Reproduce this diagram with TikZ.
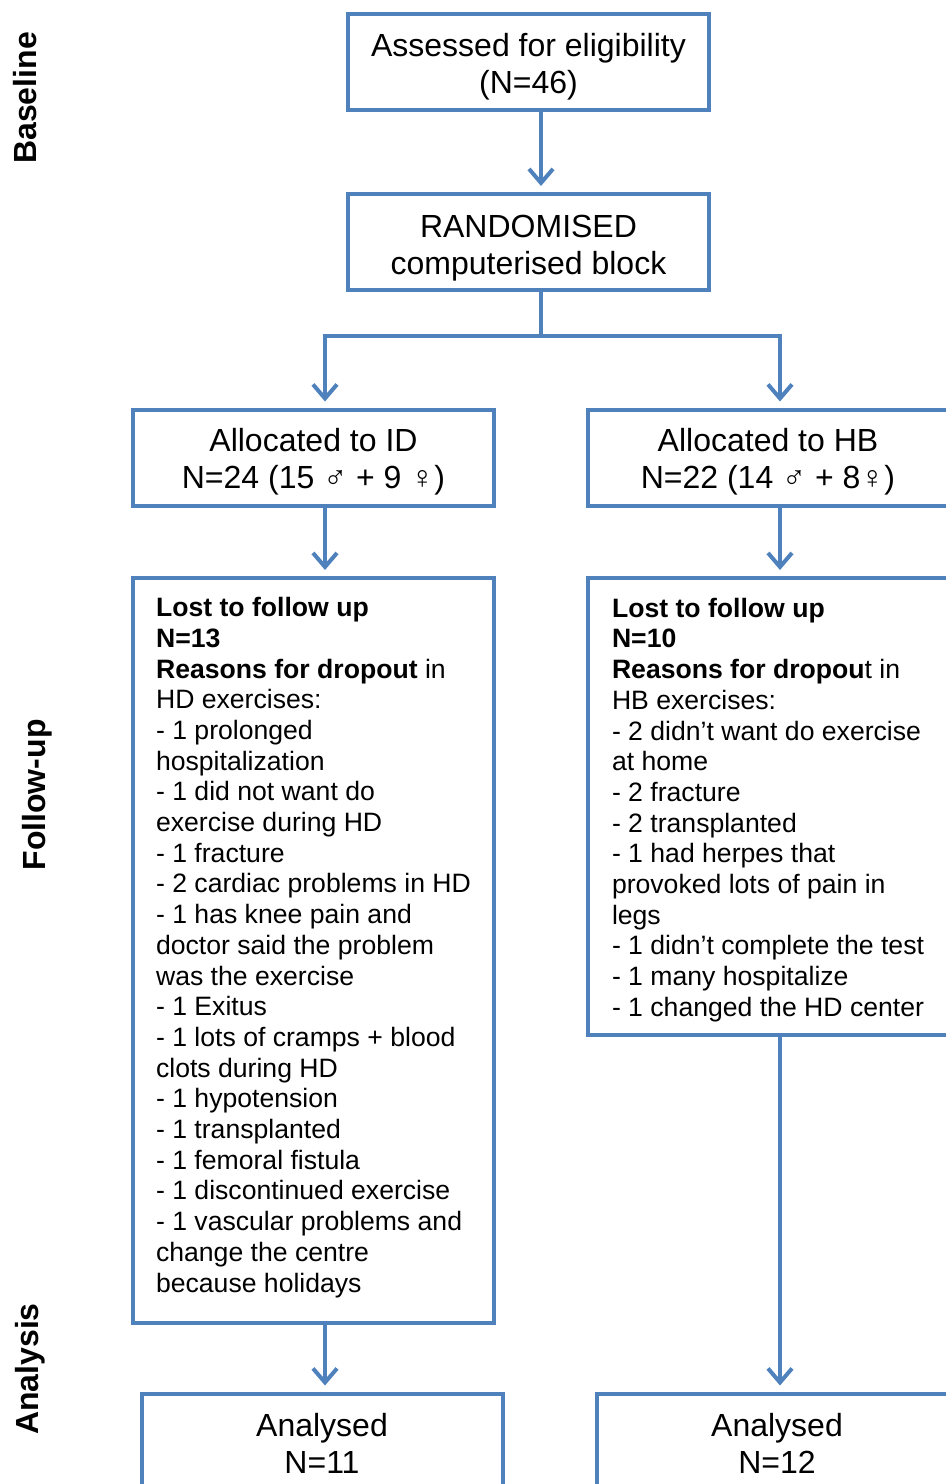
\documentclass[tikz,border=0pt]{standalone}
\usepackage{fontspec}
\setmainfont{Liberation Sans}
\usepackage{xcolor}
\usetikzlibrary{arrows.meta,positioning,calc}
\definecolor{flowblue}{RGB}{79,129,189}
\newcommand{\upstrut}[1]{\rule{0pt}{#1}}
\newcommand{\downstrut}[1]{\rule[-#1]{0pt}{0pt}}

\begin{document}
\begin{tikzpicture}[
    x=0.5pt, y=-0.5pt,
    frame/.style={draw=flowblue, line width=2pt, rectangle, fill=white, inner sep=0pt, minimum width=180.5pt},
    box/.style={frame, align=center, minimum height=48pt, font=\fontsize{16}{18.5}\selectfont},
    lostbox/.style={frame, align=left, font=\fontsize{13.3}{15.35}\selectfont},
    phase/.style={rotate=90, font=\fontsize{16}{19}\selectfont\bfseries},
    arrow/.style={flowblue, line width=2pt, -{Straight Barb[length=7pt,width=12pt]}, shorten >=3pt},
    line/.style={flowblue, line width=2pt}
]
\useasboundingbox (0,0) rectangle (946,1484);

% Phases (left side)
\node[phase] (base) at (25,98) {Baseline};
\node[phase] (follow) at (37,795) {Follow-up};
\node[phase] (anal) at (30,1369) {Analysis};

% Main column
\node[box] (assess) at (528.5,62) {\upstrut{16pt}Assessed for eligibility\\(N=46)};

\node[box] (rand) at (528.5,242) {\upstrut{17pt}RANDOMISED\\computerised block};

% Groups
\node[box] (allocID) at (313.5,457.5) {\upstrut{16pt}Allocated to ID\\N=24 (15 ♂ + 9 ♀)};

\node[box] (allocHB) at (768,457.5) {\upstrut{16pt}Allocated to HB\\N=22 (14 ♂ + 8♀)};

\node[lostbox, minimum height=372.5pt] (lostID) at (313.5,950.5) {\textbf{Lost to follow up}\\
\textbf{N=13}\\
\textbf{Reasons for dropout} in\\
HD exercises:\\
- 1 prolonged\\
hospitalization\\
- 1 did not want do\\
exercise during HD\\
- 1 fracture\\
- 2 cardiac problems in HD\\
- 1 has knee pain and\\
doctor said the problem\\
was the exercise\\
- 1 Exitus\\
- 1 lots of cramps + blood\\
clots during HD\\
- 1 hypotension\\
- 1 transplanted\\
- 1 femoral fistula\\
- 1 discontinued exercise\\
- 1 vascular problems and\\
change the centre\\
because holidays\downstrut{5.8pt}};

\node[lostbox, minimum height=228.5pt] (lostHB) at (768,806.5) {\upstrut{13pt}\textbf{Lost to follow up}\\
\textbf{N=10}\\
\textbf{Reasons for dropou}t in\\
HB exercises:\\
- 2 didn’t want do exercise\\
at home\\
- 2 fracture\\
- 2 transplanted\\
- 1 had herpes that\\
provoked lots of pain in\\
legs\\
- 1 didn’t complete the test\\
- 1 many hospitalize\\
- 1 changed the HD center};

\node[box] (anID) at (322,1441.5) {\upstrut{13.5pt}Analysed\\N=11};

\node[box] (anHB) at (777,1441.5) {\upstrut{13.5pt}Analysed\\N=12};

% Arrows
\coordinate (split) at (541,336);
\draw[arrow] ([xshift=6.25pt]assess.south) -- ([xshift=6.25pt]rand.north);
\draw[line] ([xshift=6.25pt]rand.south) -- (split);
\draw[arrow] (split) -| ([xshift=5.75pt]allocID.north);
\draw[arrow] (split) -| ([xshift=6pt]allocHB.north);

\draw[arrow] ([xshift=5.75pt]allocID.south) -- ([xshift=5.75pt]lostID.north);
\draw[arrow] ([xshift=6pt]allocHB.south) -- ([xshift=6pt]lostHB.north);
\draw[arrow] ([xshift=5.75pt]lostID.south) -- ([xshift=1.5pt]anID.north);
\draw[arrow] ([xshift=6pt]lostHB.south) -- ([xshift=1.5pt]anHB.north);

\end{tikzpicture}
\end{document}
